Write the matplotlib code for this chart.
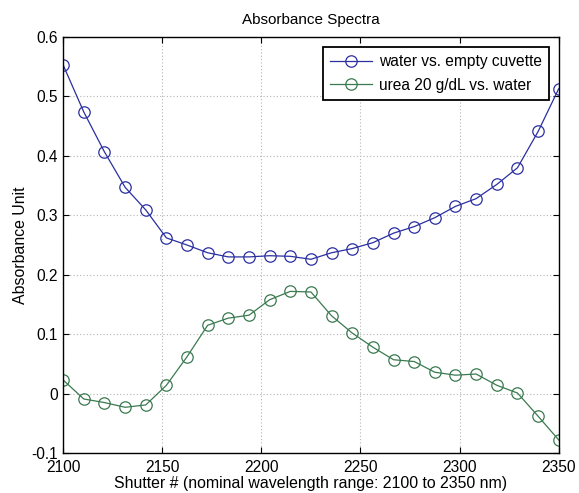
import matplotlib
matplotlib.use("Agg")
import matplotlib.pyplot as plt

plt.rcParams['font.family'] = ['Liberation Sans', 'DejaVu Sans']

shutter = [2100.0, 2110.4, 2120.8, 2131.3, 2141.7, 2152.1, 2162.5, 2172.9, 2183.3,
           2193.8, 2204.2, 2214.6, 2225.0, 2235.4, 2245.8, 2256.3, 2266.7, 2277.1,
           2287.5, 2297.9, 2308.3, 2318.8, 2329.2, 2339.6, 2350.0]
water = [0.553, 0.474, 0.407, 0.347, 0.309, 0.262, 0.250, 0.237, 0.230, 0.230,
         0.232, 0.231, 0.226, 0.237, 0.244, 0.254, 0.270, 0.281, 0.296, 0.315,
         0.328, 0.352, 0.380, 0.441, 0.513]
urea = [0.023, -0.009, -0.015, -0.023, -0.019, 0.014, 0.062, 0.115, 0.127, 0.132,
        0.158, 0.172, 0.171, 0.131, 0.102, 0.078, 0.057, 0.054, 0.036, 0.031,
        0.033, 0.014, 0.001, -0.038, -0.078]
labels = ['water vs. empty cuvette', 'urea 20 g/dL vs. water']
xticks = [2100, 2150, 2200, 2250, 2300, 2350]
yticks = [-0.1, 0, 0.1, 0.2, 0.3, 0.4, 0.5, 0.6]
yticklabels = ['-0.1', '0', '0.1', '0.2', '0.3', '0.4', '0.5', '0.6']

fig = plt.figure(figsize=(5.79, 4.93), dpi=100)
ax = fig.add_axes([0.109, 0.081, 0.856, 0.844])

ax.plot(shutter, water, '-o', color='#2b2fa0', lw=0.9, ms=8.2,
        mfc='none', mew=0.9, label=labels[0])
ax.plot(shutter, urea, '-o', color='#3a7a50', lw=0.9, ms=8.2,
        mfc='none', mew=0.9, label=labels[1])

ax.set_xlim(2100, 2350)
ax.set_ylim(-0.1, 0.6)
ax.set_xticks(xticks)
ax.set_yticks(yticks)
ax.set_yticklabels(yticklabels)
ax.tick_params(direction='in', top=True, right=True, labelsize=11.2, length=4, width=0.8)
ax.tick_params(axis='x', pad=5)
ax.tick_params(axis='y', pad=4)
ax.grid(True, linestyle=(0, (1, 2)), color='#b5b5b5', lw=0.8)
for s in ax.spines.values():
    s.set_linewidth(1.0)

ax.set_title('Absorbance Spectra', fontsize=11, pad=9)
ax.set_xlabel('Shutter # (nominal wavelength range: 2100 to 2350 nm)', fontsize=11.4, labelpad=1)
ax.set_ylabel('Absorbance Unit', fontsize=11.4, labelpad=2)

leg = ax.legend(loc='upper right', fontsize=11.2, fancybox=False, framealpha=1,
                edgecolor='black', borderaxespad=0.65, handlelength=2.7,
                handletextpad=0.4, borderpad=0.45, labelspacing=0.55)
leg.get_frame().set_linewidth(1.3)

fig.savefig('out.png', dpi=100)
